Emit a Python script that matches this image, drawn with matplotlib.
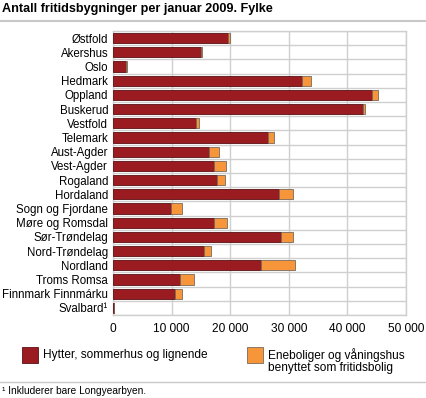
import matplotlib.pyplot as plt
from matplotlib.patches import Rectangle
from matplotlib.ticker import FuncFormatter, MultipleLocator

plt.rcParams['font.family'] = ['Liberation Sans', 'DejaVu Sans']

counties = ['Østfold', 'Akershus', 'Oslo', 'Hedmark', 'Oppland', 'Buskerud',
            'Vestfold', 'Telemark', 'Aust-Agder', 'Vest-Agder', 'Rogaland',
            'Hordaland', 'Sogn og Fjordane', 'Møre og Romsdal', 'Sør-Trøndelag',
            'Nord-Trøndelag', 'Nordland', 'Troms Romsa', 'Finnmark Finnmárku',
            'Svalbard¹']
cabins = [19600, 15000, 2300, 32250, 44250, 42600, 14150, 26450, 16400, 17200,
          17750, 28250, 9900, 17200, 28600, 15450, 25200, 11450, 10600, 200]
houses = [400, 200, 30, 1600, 1000, 350, 500, 950, 1650, 2000,
          1300, 2500, 1800, 2200, 2200, 1300, 5900, 2300, 1200, 0]

red = '#9a1b20'
orange = '#f7953b'
grid_col = '#cfcfcf'
fs = 8.6

W, H = 426, 398
fig = plt.figure(figsize=(W / 100, H / 100), dpi=100)
ax = fig.add_axes([113 / W, 1 - 315 / H, 293 / W, 284 / H])

y = range(len(counties))
ax.barh(y, cabins, height=0.72, color=red, edgecolor='#5a1012', linewidth=0.6, zorder=3)
ax.barh(y, houses, left=cabins, height=0.72, color=orange, edgecolor='#7a6a5a',
        linewidth=0.6, zorder=3)

ax.set_xlim(0, 50000)
ax.set_ylim(len(counties) - 0.5, -0.5)
ax.set_yticks(list(y))
ax.set_yticklabels(counties)
ax.yaxis.set_minor_locator(MultipleLocator(1, offset=0.5))
ax.xaxis.set_major_locator(MultipleLocator(10000))
ax.xaxis.set_major_formatter(FuncFormatter(lambda v, p: f'{int(v):,}'.replace(',', ' ')))
ax.grid(axis='x', which='major', color=grid_col, linewidth=1, zorder=0)
ax.grid(axis='y', which='minor', color=grid_col, linewidth=1, zorder=0)
ax.tick_params(axis='both', which='both', length=0, labelsize=fs, colors='black')
ax.tick_params(axis='y', pad=3.5, labelsize=8.3)
ax.tick_params(axis='x', pad=6)
for s in ax.spines.values():
    s.set_color(grid_col)
    s.set_linewidth(1)

# title and rules
fig.text(2 / W, 1 - 12 / H, 'Antall fritidsbygninger per januar 2009. Fylke',
         fontsize=9.1, fontweight='bold', ha='left', va='baseline')
fig.add_artist(plt.Line2D([0, 1], [1 - 21 / H, 1 - 21 / H], color='#c8c8c8', linewidth=1.5))
fig.add_artist(plt.Line2D([0, 1], [1 - 382 / H, 1 - 382 / H], color='#c8c8c8', linewidth=1))

# legend
fig.add_artist(Rectangle((22 / W, 1 - 363 / H), 16 / W, 16 / H, facecolor=red,
                         edgecolor='#5a1012', linewidth=0.6))
fig.text(43 / W, 1 - 355 / H, 'Hytter, sommerhus og lignende', fontsize=fs, va='center')
fig.add_artist(Rectangle((247 / W, 1 - 363 / H), 16 / W, 16 / H, facecolor=orange,
                         edgecolor='#7a6a5a', linewidth=0.6))
fig.text(268 / W, 1 - 355 / H, 'Eneboliger og våningshus', fontsize=fs, va='center')
fig.text(268 / W, 1 - 368 / H, 'benyttet som fritidsbolig', fontsize=fs, va='center')

fig.text(2 / W, 1 - 391 / H, '¹ Inkluderer bare Longyearbyen.', fontsize=7.3, va='center')

fig.savefig('out.png', dpi=100)
